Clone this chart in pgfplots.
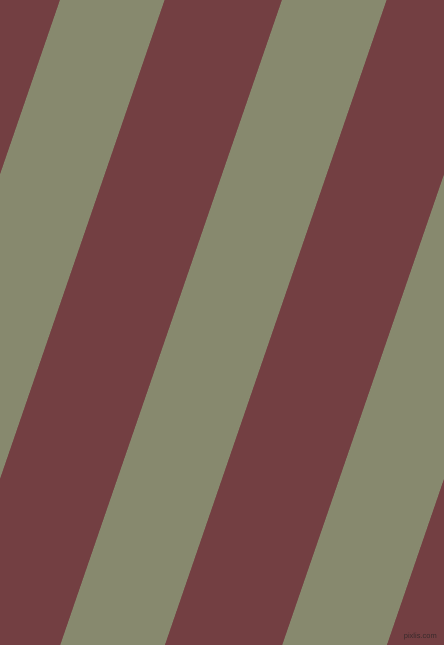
\documentclass[border=0pt]{standalone}
\usepackage{pgfplots}
\pgfplotsset{compat=1.18}
\usepackage{fontspec}
\setmainfont{Liberation Sans}
\definecolor{stripeMaroon}{HTML}{733F42}
\definecolor{stripeGreen}{HTML}{87896E}
\definecolor{markText}{HTML}{3A2B2C}

\begin{document}
\begin{tikzpicture}
\begin{axis}[
    hide axis,
    scale only axis,
    width=444pt, height=645pt,
    xmin=0, xmax=444,
    ymin=0, ymax=645,
    y dir=reverse,
    clip=true,
]
    % background
    \addplot[draw=none, fill=stripeMaroon] coordinates {
        (0,0) (444,0) (444,645) (0,645) (0,0)
    };
    % green stripes (slope dx/dy = -0.3437)
    \addplot[draw=none, fill=stripeGreen] coordinates {
        (60,0) (164.5,0) (-57.2,645) (-161.7,645) (60,0)
    };
    \addplot[draw=none, fill=stripeGreen] coordinates {
        (282,0) (386.5,0) (164.8,645) (60.3,645) (282,0)
    };
    \addplot[draw=none, fill=stripeGreen] coordinates {
        (504,0) (608.5,0) (386.8,645) (282.3,645) (504,0)
    };
    \node[anchor=south east, inner sep=0pt, text=markText,
          font=\fontsize{7.5}{8}\selectfont] at (axis cs:437,640) {pixlis.com};
\end{axis}
\pgfresetboundingbox
\path[use as bounding box] (current axis.south west) rectangle (current axis.north east);
\end{tikzpicture}
\end{document}
